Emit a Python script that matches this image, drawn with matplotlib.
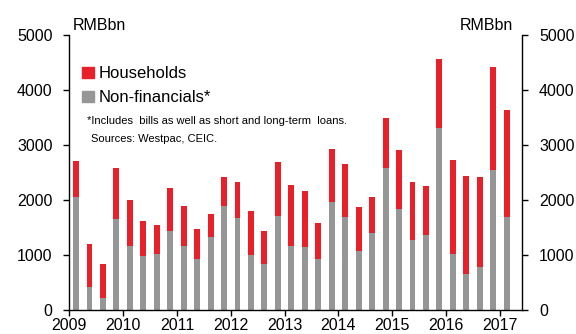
import matplotlib
matplotlib.use("Agg")
import matplotlib.pyplot as plt
import numpy as np
from matplotlib.patches import Patch

plt.rcParams["font.family"] = ["Liberation Sans", "DejaVu Sans"]

# Quarterly new lending, RMBbn, 2009 Q1 .. 2017 Q1
quarters = [
    "2009Q1", "2009Q2", "2009Q3", "2009Q4",
    "2010Q1", "2010Q2", "2010Q3", "2010Q4",
    "2011Q1", "2011Q2", "2011Q3", "2011Q4",
    "2012Q1", "2012Q2", "2012Q3", "2012Q4",
    "2013Q1", "2013Q2", "2013Q3", "2013Q4",
    "2014Q1", "2014Q2", "2014Q3", "2014Q4",
    "2015Q1", "2015Q2", "2015Q3", "2015Q4",
    "2016Q1", "2016Q2", "2016Q3", "2016Q4",
    "2017Q1",
]
non_financials = [
    2060, 410, 215, 1650,
    1165, 980, 1020, 1440,
    1170, 925, 1320, 1890,
    1675, 1000, 840, 1710,
    1160, 1140, 925, 1965,
    1695, 1075, 1400, 2590,
    1835, 1270, 1360, 3300,
    1010, 650, 790, 2550,
    1695,
]
totals = [
    2710, 1195, 840, 2585,
    2000, 1620, 1540, 2210,
    1890, 1475, 1750, 2410,
    2320, 1805, 1440, 2695,
    2275, 2160, 1590, 2920,
    2660, 1865, 2055, 3490,
    2900, 2330, 2260, 4560,
    2730, 2440, 2420, 4415,
    3640,
]
households = [t - n for t, n in zip(totals, non_financials)]
year_ticks = list(range(2009, 2018))

RED = "#e8202a"
GREY = "#969696"

# bars centred mid-quarter on a decimal-year axis
x = np.array([int(q[:4]) + 0.125 + 0.25 * (int(q[-1]) - 1) for q in quarters])

fig = plt.figure(figsize=(5.76, 3.34), dpi=100)
ax = fig.add_axes([0.1203, 0.0719, 0.7865, 0.8234])

ax.bar(x, non_financials, width=0.11, color=GREY, linewidth=0)
ax.bar(x, households, bottom=non_financials, width=0.11, color=RED, linewidth=0)

ax.set_xlim(2009, 2017.415)
ax.set_ylim(0, 5000)
ax.set_xticks(year_ticks)
ax.set_xticklabels([str(y) for y in year_ticks])
ax.set_yticks(range(0, 5001, 1000))

ax.spines["top"].set_visible(False)
for side in ("left", "right", "bottom"):
    ax.spines[side].set_linewidth(1.0)
ax.yaxis.set_ticks_position("both")
ax.tick_params(axis="y", direction="out", length=4, width=1, labelsize=11.5,
               pad=8, labelright=True)
ax.tick_params(axis="x", direction="out", length=4, width=1, labelsize=11.5, pad=2)

fig.text(0.127, 0.925, "RMBbn", fontsize=11.5, va="center", ha="left")
fig.text(0.891, 0.925, "RMBbn", fontsize=11.5, va="center", ha="right")

handles = [Patch(color=RED, label="Households"),
           Patch(color=GREY, label="Non-financials*")]
ax.legend(handles=handles, loc="upper left", bbox_to_anchor=(0.028, 0.886),
          frameon=False, fontsize=12, handlelength=0.7, handleheight=0.7,
          handletextpad=0.3, labelspacing=0.55, borderpad=0, borderaxespad=0)

ax.text(0.039, 0.687, "*Includes  bills as well as short and long-term  loans.",
        transform=ax.transAxes, fontsize=8, va="center", ha="left")
ax.text(0.048, 0.622, "Sources: Westpac, CEIC.",
        transform=ax.transAxes, fontsize=8, va="center", ha="left")

fig.savefig("out.png", dpi=100)
